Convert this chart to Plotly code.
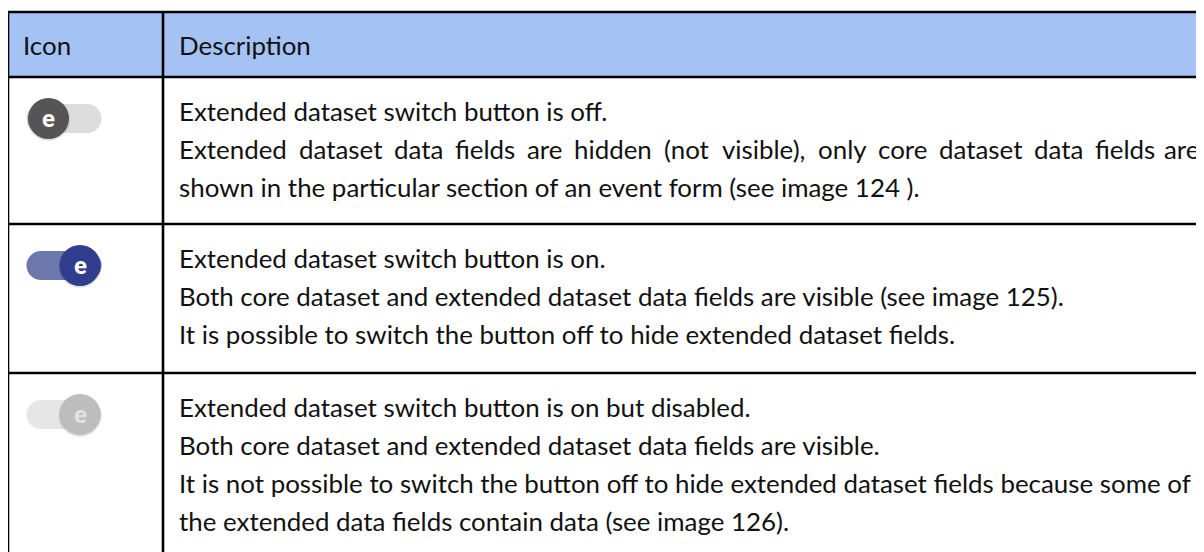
import plotly.graph_objects as go

# ---------------- content ----------------
headers = ["Icon", "Description"]
icon_states = ["off", "on", "disabled"]
descriptions = [
    ["Extended dataset switch button is off.",
     "Extended dataset data fields are hidden (not visible), only core dataset data fields are",
     "shown in the particular section of an event form (see image 124 )."],
    ["Extended dataset switch button is on.",
     "Both core dataset and extended dataset data fields are visible (see image 125).",
     "It is possible to switch the button off to hide extended dataset fields."],
    ["Extended dataset switch button is on but disabled.",
     "Both core dataset and extended dataset data fields are visible.",
     "It is not possible to switch the button off to hide extended dataset fields because some of",
     "the extended data fields contain data (see image 126)."],
]
justified_line = (0, 1)  # (row, line) that is justified in the original

# ---------------- layout / style ----------------
W, H = 1204, 552
PAGE_OFF = 8  # default body margin of the html page
FONT = "Lato, Carlito, Calibri, 'Open Sans', sans-serif"
FS = 25.9
TXT = "#111111"
HEADER_FILL = "#a4c2f4"
LW = 2.6
x_left, x_split, x_right = 8, 163, 1215
row_edges = [12, 77, 224, 373, 570]
icon_text_x = 21
desc_x = 177
text_right = 1201
first_line_off = 34.2
pitch = 37.8

# approximate advance widths (em) of the text font, used only to justify one line
em_w = {"E": .57, "x": .50, "t": .35, "e": .52, "n": .56, "d": .56, "a": .49, "s": .42,
        "f": .33, "i": .24, "l": .24, "r": .36, "h": .56, "(": .30, ")": .30, "o": .56,
        "v": .50, "b": .56, ",": .22, "y": .50, "c": .46}


def word_width(w):
    return sum(em_w.get(ch, .5) for ch in w) * FS * 1.02


icon_style = {
    "off": dict(track="#dcdcdc", knob="#555555", e="#ffffff", knob_x=48.5),
    "on": dict(track="#6c77ac", knob="#2f3d8c", e="#ffffff", knob_x=80),
    "disabled": dict(track="#e6e6e6", knob="#bdbdbd", e="#e2e2e2", knob_x=80),
}
track_x0, track_x1, track_r, knob_r = 41, 87, 14.5, 20.5

fig = go.Figure()
shapes = []
ann = []

# header fill
shapes.append(dict(type="rect", x0=x_left, x1=x_right, y0=row_edges[0], y1=row_edges[1],
                   fillcolor=HEADER_FILL, line=dict(width=0), layer="below"))

# icons
for i, state in enumerate(icon_states):
    st = icon_style[state]
    cy = row_edges[i + 1] + 41.5
    for cx in (track_x0, track_x1):
        shapes.append(dict(type="circle", x0=cx - track_r, x1=cx + track_r, y0=cy - track_r, y1=cy + track_r,
                           fillcolor=st["track"], line=dict(width=0)))
    shapes.append(dict(type="rect", x0=track_x0, x1=track_x1, y0=cy - track_r, y1=cy + track_r,
                       fillcolor=st["track"], line=dict(width=0)))
    kx = st["knob_x"]
    shapes.append(dict(type="circle", x0=kx - knob_r - 1, x1=kx + knob_r + 1, y0=cy - knob_r, y1=cy + knob_r + 2,
                       fillcolor="rgba(0,0,0,0.10)", line=dict(width=0)))
    shapes.append(dict(type="circle", x0=kx - knob_r, x1=kx + knob_r, y0=cy - knob_r, y1=cy + knob_r,
                       fillcolor=st["knob"], line=dict(width=0)))
    ann.append(dict(x=kx, y=cy, text="<b>e</b>", showarrow=False, xanchor="center", yanchor="middle",
                    font=dict(family="Roboto, Arial, sans-serif", size=24, color=st["e"])))

# grid lines
for y in row_edges[:4]:
    shapes.append(dict(type="line", x0=x_left - 1, x1=x_right, y0=y, y1=y, line=dict(color="black", width=LW)))
for x in (x_left, x_split):
    shapes.append(dict(type="line", x0=x, x1=x, y0=row_edges[0], y1=row_edges[-1], line=dict(color="black", width=LW)))

# header text
hy = (row_edges[0] + row_edges[1]) / 2
for txt, x in zip(headers, (icon_text_x, desc_x)):
    ann.append(dict(x=x, y=hy, text=txt, showarrow=False, xanchor="left", yanchor="middle",
                    font=dict(family=FONT, size=FS, color=TXT)))

# descriptions
for r, lines in enumerate(descriptions):
    for j, line in enumerate(lines):
        y = row_edges[r + 1] + first_line_off + j * pitch
        if (r, j) == justified_line:
            words = line.split(" ")
            widths = [word_width(w) for w in words]
            gap = (text_right - desc_x - sum(widths)) / (len(words) - 1)
            xpos = desc_x
            for k, (wd, ww) in enumerate(zip(words, widths)):
                if k == len(words) - 1:
                    ann.append(dict(x=text_right, y=y, text=wd, showarrow=False, xanchor="right", yanchor="middle",
                                    font=dict(family=FONT, size=FS, color=TXT)))
                else:
                    ann.append(dict(x=xpos, y=y, text=wd, showarrow=False, xanchor="left", yanchor="middle",
                                    font=dict(family=FONT, size=FS, color=TXT)))
                xpos += ww + gap
        else:
            ann.append(dict(x=desc_x, y=y, text=line, showarrow=False, xanchor="left", yanchor="middle",
                            font=dict(family=FONT, size=FS, color=TXT)))

fig.update_layout(
    width=W - PAGE_OFF, height=H - PAGE_OFF, margin=dict(l=0, r=0, t=0, b=0),
    paper_bgcolor="white", plot_bgcolor="white",
    xaxis=dict(range=[PAGE_OFF, W], visible=False, fixedrange=True),
    yaxis=dict(range=[H, PAGE_OFF], visible=False, fixedrange=True),
    shapes=shapes, annotations=ann, showlegend=False,
)
fig.write_html("out.html")
